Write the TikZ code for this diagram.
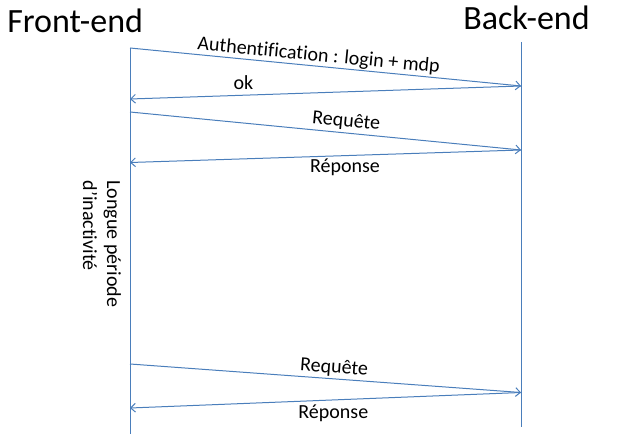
\documentclass[tikz,border=0pt]{standalone}
\usepackage{fontspec}
\setmainfont{Carlito}[Ligatures=NoCommon]
\usetikzlibrary{arrows.meta,positioning,calc}
\usepackage{xcolor}
\definecolor{lineblue}{RGB}{74,126,187}

\tikzset{
  life/.style={draw=lineblue, line width=0.75pt},
  msg/.style={draw=lineblue, line width=0.75pt, -{Straight Barb[length=3.5pt,width=6.5pt]}},
  lbl/.style={font=\fontsize{15}{18}\selectfont, inner sep=1pt, text depth=0pt},
  lblb/.style={lbl, text height=11pt},
  title/.style={font=\fontsize{25.5}{30}\selectfont, inner sep=0pt, anchor=base west}
}

\begin{document}
\begin{tikzpicture}[x=0.75pt, y=-0.75pt]
            \useasboundingbox (0,0) rectangle (628,438);
            % Titles
            \node[title] (front) at (7,33) {Front-end};
            \node[title] (back) at (463,30) {Back-end};

            % Lifelines
            \coordinate (fTop) at (130,48);
            \coordinate (fBot) at (130,434);
            \coordinate (bTop) at (521,42);
            \coordinate (bBot) at (521,427);
            \draw[life] (fTop) -- (fBot);
            \draw[life] (bTop) -- (bBot);

            % Message ends
            \coordinate (fAuth) at (130,48);
            \coordinate (bAuth) at (521,86);
            \coordinate (fOk) at (130,99);
            \coordinate (fReqA) at (130,112);
            \coordinate (bReqA) at (521,150);
            \coordinate (fRepA) at (130,162.5);
            \coordinate (fReqB) at (130,364);
            \coordinate (bReqB) at (521,392.5);
            \coordinate (fRepB) at (130,408);

            % Arrows
            \draw[msg] (fAuth) -- node[lbl, sloped, above=2.5pt, pos=0.48] (lAuth) {Authentification : login + mdp} (bAuth);
            \draw[msg] (bAuth) -- node[lbl, above=2.75pt, pos=0.71] (lOk) {ok} (fOk);
            \draw[msg] (fReqA) -- node[lbl, sloped, above=3.5pt, pos=0.55] (lReqA) {Requête} (bReqA);
            \draw[msg] (bReqA) -- node[lblb, below=0.5pt, pos=0.45] (lRepA) {Réponse} (fRepA);
            \draw[msg] (fReqB) -- node[lbl, sloped, above=3pt, pos=0.52] (lReqB) {Requête} (bReqB);
            \draw[msg] (bReqB) -- node[lblb, below=1.5pt, pos=0.48] (lRepB) {Réponse} (fRepB);

            % Idle period
            \node[rotate=-90, align=left, inner sep=0pt, font=\fontsize{15}{18}\selectfont] (idle) at (102,244) {Longue période\\d'inactivité};
        \end{tikzpicture}
\end{document}
